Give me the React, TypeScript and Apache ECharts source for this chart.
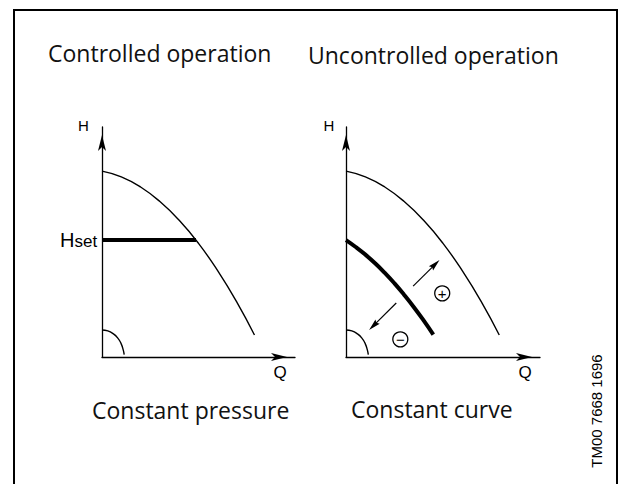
import React, { useEffect, useRef } from 'react';
import * as echarts from 'echarts';

// Titles and captions
const titles = ['Controlled operation', 'Uncontrolled operation'];
const captions = ['Constant pressure', 'Constant curve'];
const axisNamesY = ['H', 'H'];
const axisNamesX = ['Q', 'Q'];
const setLabelMain = 'H';
const setLabelSub = 'set';
const figureId = 'TM00 7668 1696';

// Pump curve (max speed) – Q / H values
const qPump = [0, 1, 2, 3, 4, 5, 6, 7, 7.9];
const hPump = [9.7, 9.4, 8.87, 8.11, 7.13, 5.93, 4.49, 2.84, 1.15];

// System (small) curve near the origin
const qSystem = [0, 0.3, 0.57, 0.81, 0.99, 1.1, 1.15];
const hSystem = [1.41, 1.36, 1.22, 1.0, 0.7, 0.37, 0.12];

// Constant pressure set point
const hSet = 6.1;
const qSetEnd = 4.87;

// Constant (reduced) curve
const qConst = [0, 0.5, 1, 1.5, 2, 2.5, 3, 3.5, 4, 4.5];
const hConst = [6.1, 5.74, 5.34, 4.89, 4.39, 3.84, 3.24, 2.6, 1.91, 1.17];

// Adjustment arrows [q1, h1, q2, h2]
const arrowPlus = [3.46, 3.7, 4.82, 5.06];
const arrowMinus = [2.59, 2.82, 1.19, 1.41];

// Sign markers
const signQ = [4.96, 2.8];
const signH = [3.32, 0.92];
const signLabels = ['+', '\u2212'];

const zip = (a: number[], b: number[]) => a.map((v, i) => [v, b[i]]);

export default function App() {
  const ref = useRef<HTMLDivElement>(null);
  useEffect(() => {
    if (!ref.current) return;
    const chart = echarts.init(ref.current, undefined, { renderer: 'svg' });
    const black = '#000';
    const axisCommon = {
      type: 'value' as const,
      min: 0,
      axisLine: {
        show: true,
        onZero: false,
        lineStyle: { color: black, width: 1.3 },
        symbol: ['none', 'arrow'],
        symbolSize: [6, 16],
        symbolOffset: [0, -8],
      },
      axisTick: { show: false },
      axisLabel: { show: false },
      splitLine: { show: false },
    };
    const thin = { color: black, width: 1.4 };
    const thick = { color: black, width: 4 };
    const lineSeries = (data: number[][], gi: number, style: any) => ({
      type: 'line',
      xAxisIndex: gi,
      yAxisIndex: gi,
      data,
      smooth: true,
      showSymbol: false,
      symbol: 'none',
      lineStyle: style,
      silent: true,
    });
    const sans = 'Open Sans';
    const arial = 'Liberation Sans';
    const option: any = {
      animation: false,
      backgroundColor: '#fff',
      grid: [
        { left: 102, top: 127, width: 193, height: 230 },
        { left: 346, top: 127, width: 194, height: 230 },
      ],
      xAxis: [
        { ...axisCommon, gridIndex: 0, max: 10 },
        { ...axisCommon, gridIndex: 1, max: 10 },
      ],
      yAxis: [
        { ...axisCommon, gridIndex: 0, max: 12 },
        { ...axisCommon, gridIndex: 1, max: 12 },
      ],
      series: [
        lineSeries(zip(qPump, hPump), 0, thin),
        lineSeries(zip(qSystem, hSystem), 0, thin),
        { ...lineSeries([[0, hSet], [qSetEnd, hSet]], 0, thick), smooth: false },
        lineSeries(zip(qPump, hPump), 1, thin),
        lineSeries(zip(qSystem, hSystem), 1, thin),
        lineSeries(zip(qConst, hConst), 1, thick),
        {
          type: 'custom',
          xAxisIndex: 1,
          yAxisIndex: 1,
          silent: true,
          data: [arrowPlus, arrowMinus],
          encode: { x: [0, 2], y: [1, 3] },
          renderItem: (params: any, api: any) => {
            const p1 = api.coord([api.value(0), api.value(1)]);
            const p2 = api.coord([api.value(2), api.value(3)]);
            const dx = p2[0] - p1[0];
            const dy = p2[1] - p1[1];
            const len = Math.hypot(dx, dy);
            const ux = dx / len;
            const uy = dy / len;
            const hl = 12;
            const hw = 3;
            const bx = p2[0] - ux * hl;
            const by = p2[1] - uy * hl;
            const nx = -uy;
            const ny = ux;
            return {
              type: 'group',
              children: [
                {
                  type: 'line',
                  shape: { x1: p1[0], y1: p1[1], x2: bx + ux * 3, y2: by + uy * 3 },
                  style: { stroke: black, lineWidth: 1.2 },
                },
                {
                  type: 'polygon',
                  shape: {
                    points: [
                      [p2[0], p2[1]],
                      [bx + nx * hw, by + ny * hw],
                      [p2[0] - ux * hl * 0.85, p2[1] - uy * hl * 0.85],
                      [bx - nx * hw, by - ny * hw],
                    ],
                  },
                  style: { fill: black },
                },
              ],
            };
          },
        },
        {
          type: 'scatter',
          xAxisIndex: 1,
          yAxisIndex: 1,
          silent: true,
          data: zip(signQ, signH),
          symbol: 'circle',
          symbolSize: 15,
          itemStyle: { color: '#fff', borderColor: black, borderWidth: 1.3, opacity: 1 },
          label: {
            show: true,
            position: 'inside',
            formatter: (p: any) => signLabels[p.dataIndex],
            color: black,
            fontSize: 15,
            fontFamily: arial,
          },
        },
      ],
      graphic: [
        {
          type: 'rect',
          shape: { x: 14, y: 10, width: 603, height: 490 },
          style: { fill: 'none', stroke: black, lineWidth: 2 },
          silent: true,
        },
        {
          type: 'text', x: 48, y: 53.4,
          style: { text: titles[0], font: `23px "${sans}"`, fill: '#111', textAlign: 'left', textVerticalAlign: 'middle' },
        },
        {
          type: 'text', x: 308, y: 55.4,
          style: { text: titles[1], font: `23px "${sans}"`, fill: '#111', textAlign: 'left', textVerticalAlign: 'middle' },
        },
        {
          type: 'text', x: 92, y: 410.4,
          style: { text: captions[0], font: `23px "${sans}"`, fill: '#111', textAlign: 'left', textVerticalAlign: 'middle' },
        },
        {
          type: 'text', x: 351, y: 409.1,
          style: { text: captions[1], font: `23px "${sans}"`, fill: '#111', textAlign: 'left', textVerticalAlign: 'middle' },
        },
        {
          type: 'text', x: 83.5, y: 125,
          style: { text: axisNamesY[0], font: `15px "${arial}"`, fill: black, textAlign: 'center', textVerticalAlign: 'middle' },
        },
        {
          type: 'text', x: 329, y: 125,
          style: { text: axisNamesY[1], font: `15px "${arial}"`, fill: black, textAlign: 'center', textVerticalAlign: 'middle' },
        },
        {
          type: 'text', x: 280, y: 372.4,
          style: { text: axisNamesX[0], font: `17px "${arial}"`, fill: black, textAlign: 'center', textVerticalAlign: 'middle' },
        },
        {
          type: 'text', x: 525, y: 372.4,
          style: { text: axisNamesX[1], font: `17px "${arial}"`, fill: black, textAlign: 'center', textVerticalAlign: 'middle' },
        },
        {
          type: 'text', x: 60, y: 239.8,
          style: { text: setLabelMain, font: `20px "${arial}"`, fill: black, textAlign: 'left', textVerticalAlign: 'middle' },
        },
        {
          type: 'text', x: 74.5, y: 241.6,
          style: { text: setLabelSub, font: `17px "${arial}"`, fill: black, textAlign: 'left', textVerticalAlign: 'middle' },
        },
        {
          type: 'text', x: 596, y: 411, rotation: Math.PI / 2,
          style: { text: figureId, font: `15px "${arial}"`, fill: black, textAlign: 'center', textVerticalAlign: 'middle' },
        },
      ],
    };
    chart.setOption(option);
    return () => chart.dispose();
  }, []);
  return (
    <div
      ref={ref}
      style={{ position: 'fixed', left: 0, top: 0, width: 619, height: 484, background: '#fff' }}
    />
  );
}
